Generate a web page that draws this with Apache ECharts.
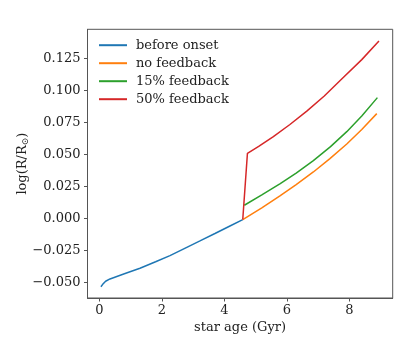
<!DOCTYPE html>
<html>
<head>
<meta charset="utf-8">
<script src="https://cdn.jsdelivr.net/npm/echarts@6/dist/echarts.min.js"></script>
<style>
  html, body { margin: 0; padding: 0; background: #fff; }
  #chart { width: 407px; height: 349px; }
</style>
</head>
<body>
<div id="chart"></div>
<script>
// star age (Gyr) / log(R/Rsun)
const beforeAge = [0.05, 0.1, 0.2, 0.34, 0.8, 1.3, 1.8, 2.26, 2.75, 3.22, 3.7, 4.18, 4.59]
const beforeVal = [-0.0535, -0.0518, -0.0492, -0.0474, -0.0434, -0.0391, -0.034, -0.0292, -0.0233, -0.0177, -0.0119, -0.006, -0.001]

const noFbAge = [4.59, 5.2, 5.78, 6.3, 6.85, 7.38, 7.92, 8.4, 8.88]
const noFbVal = [-0.001, 0.0082, 0.0175, 0.0263, 0.0362, 0.0466, 0.0581, 0.0694, 0.0818]

const fb15Age = [4.64, 5.2, 5.79, 6.3, 6.85, 7.4, 7.92, 8.4, 8.9]
const fb15Val = [0.0102, 0.0183, 0.0271, 0.0353, 0.0451, 0.056, 0.0677, 0.0799, 0.0943]

const fb50Age = [4.59, 4.74, 5.1, 5.57, 6.1, 6.64, 7.2, 7.7, 8.4, 8.95]
const fb50Val = [-0.001, 0.0508, 0.0562, 0.0639, 0.0733, 0.0838, 0.0956, 0.1075, 0.124, 0.1385]

const seriesNames = ['before onset', 'no feedback', '15% feedback', '50% feedback']
const colors = ['#1f77b4', '#ff7f0e', '#2ca02c', '#d62728']
const xTicks = [0, 2, 4, 6, 8]
const yTicks = [-0.05, -0.025, 0, 0.025, 0.05, 0.075, 0.1, 0.125]

const zip = (xs, ys) => xs.map((x, i) => [x, ys[i]])
const lines = [
  zip(beforeAge, beforeVal),
  zip(noFbAge, noFbVal),
  zip(fb15Age, fb15Val),
  zip(fb50Age, fb50Val),
]

const font = 'DejaVu Serif'
const axisColor = '#555'

const chart = echarts.init(document.getElementById('chart'))
chart.setOption({
  animation: false,
  textStyle: { fontFamily: font },
  grid: {
    left: 87.5, right: 14.3, top: 29.3, bottom: 51,
    show: true, borderColor: axisColor, borderWidth: 1,
  },
  legend: {
    orient: 'vertical',
    left: 98, top: 38.7,
    padding: 0,
    itemWidth: 28, itemHeight: 14, itemGap: 5,
    itemStyle: { opacity: 0 },
    textStyle: { fontFamily: font, fontSize: 13, color: '#222', padding: [0, 0, 0, 4] },
    data: seriesNames,
  },
  xAxis: {
    type: 'value',
    min: -0.38, max: 9.39,
    name: 'star age (Gyr)',
    nameLocation: 'middle',
    nameGap: 23,
    nameMoveOverlap: false,
    nameTextStyle: { fontFamily: font, fontSize: 13, color: '#222' },
    splitLine: { show: false },
    axisLine: { onZero: false, lineStyle: { color: axisColor } },
    axisTick: { customValues: xTicks, length: 3.5, lineStyle: { color: axisColor } },
    axisLabel: {
      customValues: xTicks, margin: 6,
      fontFamily: font, fontSize: 13, color: '#222',
    },
  },
  yAxis: {
    type: 'value',
    min: -0.0623, max: 0.1477,
    name: 'log(R/R{s|⊙})',
    nameLocation: 'middle',
    nameRotate: 90,
    nameGap: 57,
    nameMoveOverlap: false,
    nameTextStyle: {
      fontFamily: font, fontSize: 13, color: '#222',
      rich: { s: { fontFamily: font, fontSize: 9, color: '#222', padding: [6, 0, 0, 0] } },
    },
    splitLine: { show: false },
    axisLine: { show: true, onZero: false, lineStyle: { color: axisColor } },
    axisTick: { show: true, customValues: yTicks, length: 3.5, lineStyle: { color: axisColor } },
    axisLabel: {
      customValues: yTicks, margin: 7,
      fontFamily: font, fontSize: 13, color: '#222',
      formatter: (v) => v.toFixed(3).replace('-', '\u2212'),
    },
  },
  series: lines.map((d, i) => ({
    name: seriesNames[i],
    type: 'line',
    data: d,
    symbol: 'none',
    smooth: false,
    color: colors[i],
    lineStyle: { width: 1.5, color: colors[i] },
    z: 2 + i,
  })),
})
</script>
</body>
</html>
